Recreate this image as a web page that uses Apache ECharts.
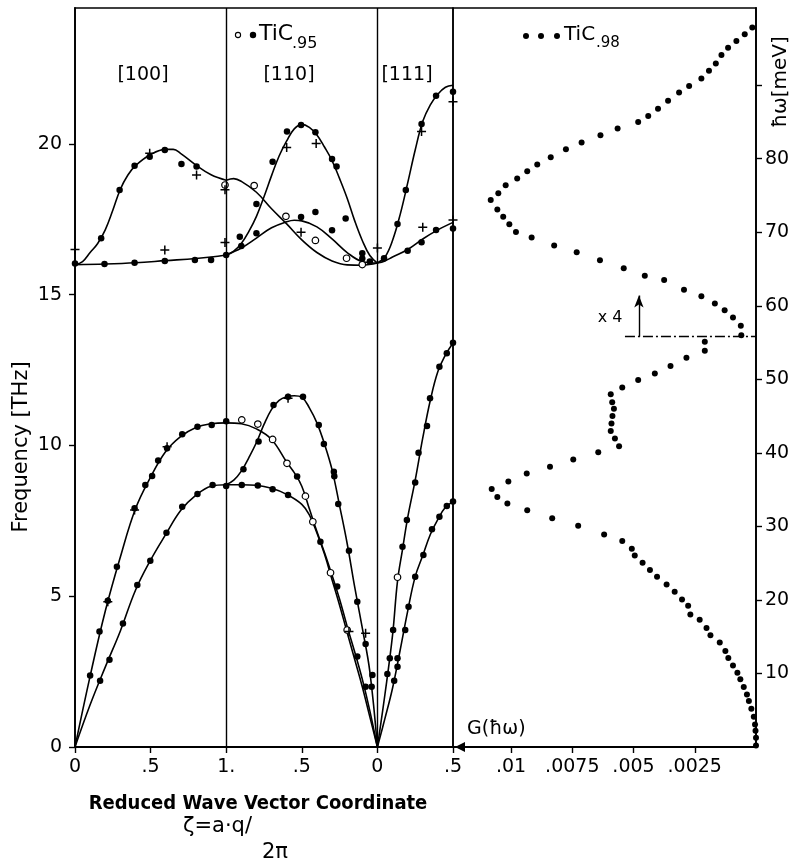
<!DOCTYPE html>
<html>
<head>
<meta charset="utf-8">
<title>TiC phonon dispersion and density of states</title>
<script src="https://cdn.jsdelivr.net/npm/echarts@6/dist/echarts.min.js"></script>
<style>
  html, body { margin: 0; padding: 0; background: #fff; }
  #chart { width: 797px; height: 865px; }
</style>
</head>
<body>
<div id="chart"></div>
<script>
// x of the dispersion panel is a path coordinate: 0..1 = [100], 1..2 = [110] (zeta 1 -> 0), 2..2.5 = [111]
const PATH_LABELS = ['0', '.5', '1.', '.5', '0', '.5'];
const THZ_TICKS = [0, 5, 10, 15, 20];
const MEV_TICKS = [10, 20, 30, 40, 50, 60, 70, 80, 90];
const G_TICKS = [0.0025, 0.005, 0.0075, 0.01];
const G_LABELS = ['.0025', '.005', '.0075', '.01'];

// solid fitted curves [path, THz]
const OPT_100_LO = [[0, 16.0], [0.05, 16.1], [0.1, 16.4], [0.15, 16.7], [0.2, 17.15], [0.25, 17.8], [0.3, 18.5], [0.35, 18.97], [0.4, 19.28], [0.5, 19.65], [0.6, 19.82], [0.65, 19.82], [0.7, 19.68], [0.8, 19.3], [0.9, 18.98], [1.0, 18.8]];
const OPT_100_TO = [[0, 16.0], [0.2, 16.02], [0.4, 16.06], [0.6, 16.13], [0.8, 16.2], [0.9, 16.25], [1.0, 16.32]];
const OPT_110_A = [[1.0, 18.8], [1.05, 18.85], [1.1, 18.76], [1.2, 18.4], [1.3, 17.85], [1.4, 17.35], [1.5, 16.82], [1.6, 16.4], [1.7, 16.12], [1.8, 15.99], [1.9, 15.98], [2.0, 16.05]];
const OPT_110_B = [[1.0, 16.32], [1.05, 16.45], [1.1, 16.7], [1.15, 17.1], [1.2, 17.6], [1.25, 18.25], [1.3, 18.95], [1.35, 19.6], [1.4, 20.1], [1.45, 20.5], [1.5, 20.65], [1.55, 20.55], [1.6, 20.3], [1.65, 19.9], [1.7, 19.45], [1.75, 18.85], [1.8, 18.2], [1.85, 17.45], [1.9, 16.8], [1.95, 16.3], [2.0, 16.05]];
const OPT_110_C = [[1.0, 16.32], [1.1, 16.55], [1.2, 16.88], [1.3, 17.22], [1.4, 17.42], [1.45, 17.47], [1.5, 17.45], [1.6, 17.25], [1.7, 16.85], [1.8, 16.4], [1.9, 16.1], [2.0, 16.05]];
const OPT_111_LO = [[2.0, 16.05], [2.05, 16.25], [2.1, 16.8], [2.15, 17.65], [2.2, 18.7], [2.25, 19.8], [2.3, 20.75], [2.35, 21.3], [2.4, 21.65], [2.45, 21.88], [2.5, 21.95]];
const OPT_111_TO = [[2.0, 16.05], [2.05, 16.12], [2.1, 16.25], [2.2, 16.5], [2.3, 16.85], [2.4, 17.15], [2.5, 17.4]];
const ACU_100_LA = [[0, 0], [0.1, 2.35], [0.2, 4.5], [0.3, 6.3], [0.4, 7.9], [0.5, 8.95], [0.6, 9.8], [0.7, 10.3], [0.8, 10.6], [0.9, 10.72], [1.0, 10.75]];
const ACU_100_TA = [[0, 0], [0.1, 1.4], [0.2, 2.65], [0.3, 3.85], [0.4, 5.2], [0.5, 6.2], [0.6, 7.05], [0.7, 7.85], [0.8, 8.35], [0.9, 8.65], [1.0, 8.7]];
const ACU_110_A = [[1.0, 8.7], [1.05, 8.85], [1.1, 9.15], [1.15, 9.6], [1.2, 10.1], [1.25, 10.7], [1.3, 11.2], [1.35, 11.5], [1.4, 11.62], [1.45, 11.65], [1.5, 11.6], [1.55, 11.25], [1.6, 10.75], [1.65, 10.05], [1.7, 9.2], [1.75, 8.0], [1.8, 6.75], [1.85, 5.3], [1.9, 3.95], [1.95, 2.5], [2.0, 0]];
const ACU_110_B = [[1.0, 10.75], [1.1, 10.72], [1.2, 10.55], [1.3, 10.2], [1.4, 9.45], [1.45, 9.1], [1.5, 8.65], [1.55, 7.9], [1.6, 7.15], [1.65, 6.45], [1.7, 5.7], [1.75, 4.9], [1.8, 4.0], [1.85, 3.15], [1.9, 2.25], [1.95, 1.2], [2.0, 0]];
const ACU_110_C = [[1.0, 8.7], [1.1, 8.7], [1.2, 8.68], [1.3, 8.58], [1.4, 8.38], [1.5, 8.05], [1.55, 7.7], [1.6, 7.1], [1.65, 6.4], [1.7, 5.55], [1.75, 4.7], [1.8, 3.8], [1.85, 2.9], [1.9, 2.0], [1.95, 1.0], [2.0, 0]];
const ACU_111_LA = [[2.0, 0], [2.05, 1.75], [2.1, 3.7], [2.133, 5.5], [2.166, 6.55], [2.2, 7.6], [2.25, 8.85], [2.3, 10.25], [2.35, 11.5], [2.4, 12.45], [2.45, 13.0], [2.5, 13.4]];
const ACU_111_TA = [[2.0, 0], [2.05, 0.95], [2.1, 1.95], [2.15, 3.2], [2.2, 4.5], [2.25, 5.65], [2.3, 6.35], [2.35, 7.05], [2.4, 7.55], [2.45, 7.95], [2.5, 8.13]];

// measured points, TiC.95
const DOTS_FILLED = [
  [0, 16.04], [0.173, 16.87], [0.295, 18.47], [0.394, 19.28], [0.494, 19.58], [0.594, 19.8], [0.704, 19.34], [0.804, 19.25],
  [0.195, 16.02], [0.394, 16.06], [0.594, 16.12], [0.793, 16.15], [0.9, 16.15], [1.0, 16.32],
  [1.09, 16.92], [1.1, 16.62], [1.2, 18.01], [1.2, 17.04], [1.307, 19.41], [1.402, 20.41], [1.495, 20.63], [1.59, 20.39], [1.7, 19.5], [1.73, 19.25],
  [1.495, 17.58], [1.59, 17.74], [1.7, 17.14], [1.79, 17.53], [1.9, 16.38], [1.9, 16.2], [1.95, 16.1],
  [2.044, 16.21], [2.133, 17.35], [2.188, 18.47], [2.292, 20.66], [2.388, 21.6], [2.5, 21.73], [2.2, 16.46], [2.292, 16.74], [2.388, 17.15], [2.5, 17.2],
  [0.1, 2.37], [0.162, 3.83], [0.217, 4.85], [0.277, 5.98], [0.394, 7.92], [0.465, 8.69], [0.51, 8.99], [0.55, 9.5], [0.609, 9.91], [0.709, 10.37], [0.81, 10.62], [0.904, 10.68], [1.0, 10.8],
  [0.166, 2.2], [0.228, 2.89], [0.317, 4.1], [0.412, 5.37], [0.498, 6.18], [0.605, 7.11], [0.709, 7.97], [0.81, 8.39], [0.91, 8.69], [1.0, 8.66],
  [1.114, 9.21], [1.214, 10.13], [1.313, 11.34], [1.409, 11.62], [1.508, 11.62], [1.612, 10.68], [1.646, 10.05], [1.712, 9.13], [1.715, 8.98], [1.741, 8.06], [1.812, 6.51], [1.867, 4.82], [1.922, 3.42], [1.962, 2.0], [1.967, 2.39],
  [1.103, 8.69], [1.209, 8.67], [1.307, 8.55], [1.409, 8.36], [1.469, 8.97], [1.623, 6.81], [1.734, 5.32], [1.867, 3.0], [1.922, 2.0],
  [2.066, 2.42], [2.082, 2.94], [2.104, 3.88], [2.166, 6.64], [2.195, 7.53], [2.25, 8.77], [2.272, 9.76], [2.328, 10.65], [2.348, 11.57], [2.41, 12.61], [2.459, 13.06], [2.5, 13.41],
  [2.111, 2.2], [2.133, 2.66], [2.133, 2.94], [2.184, 3.88], [2.206, 4.65], [2.25, 5.65], [2.304, 6.37], [2.361, 7.22], [2.41, 7.64], [2.459, 7.99], [2.5, 8.14]
];
const DOTS_OPEN = [
  [0.992, 18.64], [1.185, 18.62], [1.395, 17.6], [1.59, 16.8], [1.796, 16.21], [1.9, 16.0],
  [1.103, 10.85], [1.209, 10.71], [1.307, 10.2], [1.402, 9.41], [1.524, 8.32], [1.573, 7.47], [1.69, 5.78], [1.8, 3.88], [2.133, 5.63]
];
const DOTS_CROSS = [
  [0, 16.5], [0.494, 19.69], [0.594, 16.48], [0.804, 18.97], [0.992, 18.48], [0.992, 16.73], [1.4, 19.88], [1.595, 20.02], [1.495, 17.07],
  [2.0, 16.55], [2.292, 20.41], [2.5, 21.4], [2.3, 17.24], [2.5, 17.48],
  [0.217, 4.82], [0.394, 7.86], [0.609, 9.96], [1.409, 11.57], [1.812, 3.83], [1.922, 3.77]
];

// density of states, TiC.98 [G, meV]
const DOS = [
  [0.00015, 97.85], [0.00046, 96.94], [0.0008, 96.0], [0.00114, 95.1], [0.00141, 94.1], [0.00164, 92.95], [0.00192, 91.96], [0.00223, 90.9],
  [0.00273, 89.9], [0.00314, 89.0], [0.00359, 87.9], [0.004, 86.8], [0.0044, 85.8], [0.00481, 85.0], [0.00565, 84.1], [0.00635, 83.2],
  [0.00712, 82.2], [0.00776, 81.3], [0.00838, 80.2], [0.00893, 79.2], [0.00934, 78.3], [0.00975, 77.3], [0.01022, 76.4], [0.01052, 75.3],
  [0.01083, 74.4], [0.01056, 73.1], [0.01032, 72.1], [0.01007, 71.1], [0.0098, 70.05], [0.00916, 69.3], [0.00824, 68.2], [0.00732, 67.3],
  [0.00637, 66.2], [0.0054, 65.1], [0.00454, 64.1], [0.00375, 63.5], [0.00294, 62.2], [0.00223, 61.3], [0.00168, 60.3], [0.00128, 59.4],
  [0.00094, 58.4], [0.00062, 57.3], [0.0006, 56.0], [0.00209, 55.1], [0.00209, 53.9], [0.00284, 52.95], [0.00349, 51.8], [0.00413, 50.8],
  [0.00481, 49.9], [0.00546, 48.9], [0.00593, 47.96], [0.00587, 46.9], [0.0058, 46.0], [0.00586, 45.0], [0.0059, 44.0], [0.00593, 42.98],
  [0.00576, 41.97], [0.00559, 40.9], [0.00644, 40.1], [0.00746, 39.1], [0.00841, 38.1], [0.00936, 37.2], [0.01011, 36.1], [0.01079, 35.1],
  [0.01056, 34.0], [0.01015, 33.1], [0.00934, 32.2], [0.00832, 31.1], [0.00726, 30.1], [0.0062, 28.9], [0.00546, 28.0], [0.00507, 26.97],
  [0.00495, 26.05], [0.00463, 25.06], [0.00433, 24.07], [0.00404, 23.16], [0.00365, 22.1], [0.00332, 21.1], [0.00302, 20.07], [0.00277, 19.2],
  [0.00268, 18.03], [0.0023, 17.3], [0.00202, 16.2], [0.00186, 15.2], [0.00148, 14.2], [0.00125, 13.05], [0.00113, 12.1], [0.00094, 11.1],
  [0.00076, 10.1], [0.00064, 9.2], [0.0005, 8.15], [0.00037, 7.14], [0.00029, 6.24], [0.00019, 5.2], [0.00009, 4.1], [0.00004, 3.06],
  [0.00002, 2.2], [0, 1.25], [0, 0.2]
];

// "x4" scale change marker in the DOS panel
const X4_MEV = 55.8;
const X4_LINE_G = 0.00535;
const X4_ARROW_G = 0.00478;
const X4_ARROW_TOP_MEV = 61.4;

const THZ_MAX = 24.51;
const MEV_MAX = 100.5;
const G_MAX = 0.01237;

const FONT = '"DejaVu Sans", sans-serif';
const INK = '#000';

const chart = echarts.init(document.getElementById('chart'));

const curves = [OPT_100_LO, OPT_100_TO, OPT_110_A, OPT_110_B, OPT_110_C, OPT_111_LO, OPT_111_TO,
  ACU_100_LA, ACU_100_TA, ACU_110_A, ACU_110_B, ACU_110_C, ACU_111_LA, ACU_111_TA];

const curveSeries = curves.map((pts, i) => ({
  type: 'line',
  xAxisIndex: 0,
  yAxisIndex: 0,
  data: pts,
  smooth: 0.4,
  showSymbol: false,
  silent: true,
  lineStyle: { color: INK, width: 1.6 },
  z: 2,
  markLine: i === 0 ? {
    silent: true,
    symbol: 'none',
    label: { show: false },
    lineStyle: { color: INK, width: 1.4, type: 'solid' },
    data: [{ xAxis: 1 }, { xAxis: 2 }],
  } : undefined,
}));

const axisText = { color: INK, fontFamily: FONT, fontSize: 19 };

chart.setOption({
  animation: false,
  backgroundColor: '#fff',
  grid: [
    { left: 75, top: 8, width: 378, height: 739, show: true, borderColor: INK, borderWidth: 1.5 },
    { left: 453, top: 8, width: 303, height: 739, show: true, borderColor: INK, borderWidth: 1.5 },
  ],
  xAxis: [
    {
      gridIndex: 0, type: 'value', min: 0, max: 2.5, interval: 0.5,
      axisLine: { lineStyle: { color: INK, width: 1.8 } },
      axisTick: { length: 6, lineStyle: { color: INK, width: 1.4 } },
      axisLabel: { ...axisText, margin: 11, formatter: v => PATH_LABELS[Math.round(v * 2)] ?? '' },
      splitLine: { show: false },
    },
    {
      gridIndex: 1, type: 'value', inverse: true, min: 0, max: G_MAX, interval: 0.0025,
      axisLine: { lineStyle: { color: INK, width: 1.8 } },
      axisTick: { length: 6, lineStyle: { color: INK, width: 1.4 }, customValues: G_TICKS },
      axisLabel: {
        ...axisText, margin: 11, customValues: G_TICKS,
        formatter: v => {
          const k = G_TICKS.findIndex(t => Math.abs(t - v) < 1e-7);
          return k >= 0 ? G_LABELS[k] : '';
        },
      },
      splitLine: { show: false },
    },
  ],
  yAxis: [
    {
      gridIndex: 0, type: 'value', min: 0, max: THZ_MAX, interval: 5, position: 'left',
      axisLine: { show: true, lineStyle: { color: INK, width: 1.8 } },
      axisTick: { show: true, length: 6, lineStyle: { color: INK, width: 1.4 }, customValues: THZ_TICKS },
      axisLabel: { ...axisText, margin: 13, customValues: THZ_TICKS, formatter: v => (THZ_TICKS.includes(v) ? String(v) : '') },
      splitLine: { show: false },
    },
    {
      gridIndex: 1, type: 'value', min: 0, max: MEV_MAX, interval: 10, position: 'right',
      axisLine: { show: true, lineStyle: { color: INK, width: 1.8 } },
      axisTick: { show: true, length: 6, lineStyle: { color: INK, width: 1.4 }, customValues: MEV_TICKS },
      axisLabel: {
        ...axisText, margin: 9, customValues: MEV_TICKS.slice(0, -1),
        formatter: v => (v > 0 && v < 90 && v % 10 === 0 ? String(v) : ''),
      },
      splitLine: { show: false },
    },
  ],
  series: [
    ...curveSeries,
    {
      type: 'scatter', xAxisIndex: 0, yAxisIndex: 0, data: DOTS_FILLED,
      symbol: 'circle', symbolSize: 6.5, itemStyle: { color: INK, opacity: 1 }, silent: true, z: 3,
    },
    {
      type: 'scatter', xAxisIndex: 0, yAxisIndex: 0, data: DOTS_OPEN,
      symbol: 'circle', symbolSize: 6.5, itemStyle: { color: '#fff', borderColor: INK, borderWidth: 1.2, opacity: 1 }, silent: true, z: 4,
    },
    {
      type: 'scatter', xAxisIndex: 0, yAxisIndex: 0, data: DOTS_CROSS,
      symbol: 'path://M5,0L5,10M0,5L10,5', symbolSize: 9,
      itemStyle: { color: 'rgba(0,0,0,0)', borderColor: INK, borderWidth: 1.5, opacity: 1 }, silent: true, z: 4,
    },
    {
      type: 'scatter', xAxisIndex: 1, yAxisIndex: 1, data: DOS,
      symbol: 'circle', symbolSize: 6, itemStyle: { color: INK, opacity: 1 }, silent: true, z: 3,
      markLine: {
        silent: true,
        symbol: ['none', 'none'],
        label: { show: false },
        lineStyle: { color: INK, width: 1.4, type: 'solid' },
        data: [
          [{ coord: [X4_LINE_G, X4_MEV], lineStyle: { type: [10, 3, 2, 3], width: 1.4, color: INK } }, { coord: [0, X4_MEV] }],
          [{ coord: [X4_ARROW_G, X4_MEV] }, { coord: [X4_ARROW_G, X4_ARROW_TOP_MEV], symbol: 'arrow', symbolSize: [7, 12] }],
        ],
      },
    },
  ],
  graphic: { elements: [
    { type: 'text', id: 't100', x: 143, y: 75, style: { text: '[100]', font: `19px ${FONT}`, fill: INK, textAlign: 'center', textVerticalAlign: 'middle' } },
    { type: 'text', id: 't110', x: 289, y: 75, style: { text: '[110]', font: `19px ${FONT}`, fill: INK, textAlign: 'center', textVerticalAlign: 'middle' } },
    { type: 'text', id: 't111', x: 407, y: 75, style: { text: '[111]', font: `19px ${FONT}`, fill: INK, textAlign: 'center', textVerticalAlign: 'middle' } },
    { type: 'circle', id: 'lgOpen', shape: { cx: 238, cy: 35, r: 2.6 }, style: { fill: '#fff', stroke: INK, lineWidth: 1.1 } },
    { type: 'circle', id: 'lgFill', shape: { cx: 253, cy: 35, r: 3.2 }, style: { fill: INK } },
    { type: 'text', id: 'lg95', x: 259, y: 34, style: { text: 'TiC', font: `22px ${FONT}`, fill: INK, textAlign: 'left', textVerticalAlign: 'middle' } },
    { type: 'text', id: 'lg95s', x: 292, y: 44, style: { text: '.95', font: `16px ${FONT}`, fill: INK, textAlign: 'left', textVerticalAlign: 'middle' } },
    { type: 'circle', id: 'lgD1', shape: { cx: 526, cy: 36, r: 3 }, style: { fill: INK } },
    { type: 'circle', id: 'lgD2', shape: { cx: 541, cy: 36, r: 3 }, style: { fill: INK } },
    { type: 'circle', id: 'lgD3', shape: { cx: 557, cy: 36, r: 3 }, style: { fill: INK } },
    { type: 'text', id: 'lg98', x: 564, y: 35, style: { text: 'TiC', font: `20px ${FONT}`, fill: INK, textAlign: 'left', textVerticalAlign: 'middle' } },
    { type: 'text', id: 'lg98s', x: 596, y: 43, style: { text: '.98', font: `15px ${FONT}`, fill: INK, textAlign: 'left', textVerticalAlign: 'middle' } },
    { type: 'text', id: 'x4', x: 610, y: 318, style: { text: 'x 4', font: `16px ${FONT}`, fill: INK, textAlign: 'center', textVerticalAlign: 'middle' } },
    { type: 'text', id: 'gLbl', x: 467, y: 729, style: { text: 'G(ħω)', font: `19px ${FONT}`, fill: INK, textAlign: 'left', textVerticalAlign: 'middle' } },
    { type: 'text', id: 'yName', x: 22, y: 447, rotation: Math.PI / 2, style: { text: 'Frequency [THz]', font: `21px ${FONT}`, fill: INK, textAlign: 'center', textVerticalAlign: 'middle' } },
    { type: 'text', id: 'y2Name', x: 781, y: 82, rotation: Math.PI / 2, style: { text: 'ħω[meV]', font: `20px ${FONT}`, fill: INK, textAlign: 'center', textVerticalAlign: 'middle' } },
    { type: 'text', id: 'xName', x: 258, y: 804, style: { text: 'Reduced Wave Vector Coordinate', font: `bold 20px "DejaVu Sans Condensed", ${FONT}`, fill: INK, textAlign: 'center', textVerticalAlign: 'middle' } },
    { type: 'text', id: 'zeta', x: 183, y: 827, style: { text: 'ζ=a·q/', font: `21px ${FONT}`, fill: INK, textAlign: 'left', textVerticalAlign: 'middle' } },
    { type: 'text', id: 'zeta2', x: 262, y: 853, style: { text: '2π', font: `21px ${FONT}`, fill: INK, textAlign: 'left', textVerticalAlign: 'middle' } },
  ] },
});

// filled arrow head marking the G(ħω) axis, placed at the panel boundary
const [gx, gy] = chart.convertToPixel({ xAxisIndex: 1, yAxisIndex: 1 }, [G_MAX, 0]);
chart.setOption({
  graphic: { elements: [
    { type: 'polygon', id: 'gArrow', shape: { points: [[gx + 2, gy], [gx + 12, gy - 5], [gx + 12, gy + 5]] }, style: { fill: INK }, z: 10 },
  ] },
});
</script>
</body>
</html>
